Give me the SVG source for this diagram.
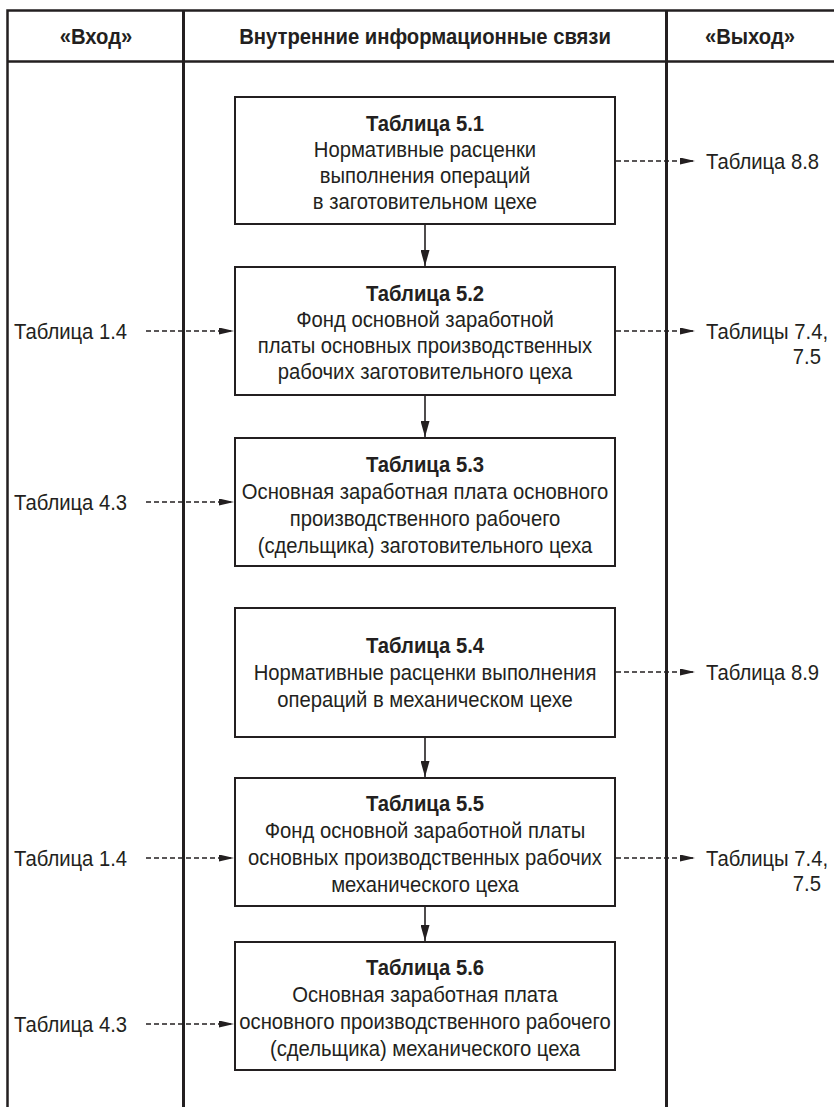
<svg xmlns="http://www.w3.org/2000/svg" width="834" height="1107" viewBox="0 0 834 1107">
<style>
text{font-family:"Liberation Sans",Arial,sans-serif;font-size:22.5px;fill:#231f20;text-anchor:middle}
.b{font-weight:bold}
.l{text-anchor:start}
.r{text-anchor:end}
.frame{fill:none;stroke:#231f20;stroke-width:2.5}
.col{fill:none;stroke:#231f20;stroke-width:3}
.box{fill:#fff;stroke:#231f20;stroke-width:2}
.solid{stroke:#231f20;stroke-width:1.6;fill:none}
.dash{stroke:#231f20;stroke-width:1.6;fill:none;stroke-dasharray:5 3}
</style>
<defs>
<marker id="ah" viewBox="0 0 15 7" refX="15" refY="3.5" markerWidth="15" markerHeight="7" markerUnits="userSpaceOnUse" orient="auto">
<path d="M0,0 L15,3.5 L0,7 Z" fill="#231f20"/>
</marker>
<marker id="av" viewBox="0 0 16 9" refX="16" refY="4.5" markerWidth="16" markerHeight="9" markerUnits="userSpaceOnUse" orient="auto">
<path d="M0,0 L16,4.5 L0,9 Z" fill="#231f20"/>
</marker>
</defs>
<rect width="834" height="1107" fill="#fff"/>
<g id="table">
<path class="frame" d="M7.5,1107 V10.5 H834 M7.5,61.5 H834"/>
<path class="col" d="M183.5,10.5 V1107 M666.5,10.5 V1107"/>
<text class="b" transform="translate(96,44) scale(0.9,1)">«Вход»</text>
<text class="b" transform="translate(425,44) scale(0.9,1)">Внутренние информационные связи</text>
<text class="b" transform="translate(750,44) scale(0.9,1)">«Выход»</text>
</g>
<g id="connectors">
<line class="solid" x1="425" y1="224" x2="425" y2="266" marker-end="url(#av)"/>
<line class="solid" x1="425" y1="395" x2="425" y2="437" marker-end="url(#av)"/>
<line class="solid" x1="425" y1="737" x2="425" y2="777" marker-end="url(#av)"/>
<line class="solid" x1="425" y1="906" x2="425" y2="941" marker-end="url(#av)"/>
<line class="dash" x1="146" y1="331" x2="234" y2="331" marker-end="url(#ah)"/>
<line class="dash" x1="146" y1="502" x2="234" y2="502" marker-end="url(#ah)"/>
<line class="dash" x1="146" y1="858" x2="234" y2="858" marker-end="url(#ah)"/>
<line class="dash" x1="146" y1="1024" x2="234" y2="1024" marker-end="url(#ah)"/>
<line class="dash" x1="616" y1="161" x2="695" y2="161" marker-end="url(#ah)"/>
<line class="dash" x1="616" y1="331" x2="695" y2="331" marker-end="url(#ah)"/>
<line class="dash" x1="616" y1="672" x2="695" y2="672" marker-end="url(#ah)"/>
<line class="dash" x1="616" y1="858" x2="695" y2="858" marker-end="url(#ah)"/>
</g>
<g id="inputs">
<text class="l" transform="translate(14,339) scale(0.9,1)">Таблица 1.4</text>
<text class="l" transform="translate(14,510) scale(0.9,1)">Таблица 4.3</text>
<text class="l" transform="translate(14,866) scale(0.9,1)">Таблица 1.4</text>
<text class="l" transform="translate(14,1032) scale(0.9,1)">Таблица 4.3</text>
</g>
<g id="outputs">
<text class="l" transform="translate(706,169) scale(0.9,1)">Таблица 8.8</text>
<text class="l" transform="translate(706,339) scale(0.9,1)">Таблицы 7.4,</text>
<text class="r" transform="translate(821,364) scale(0.9,1)">7.5</text>
<text class="l" transform="translate(706,680) scale(0.9,1)">Таблица 8.9</text>
<text class="l" transform="translate(706,866) scale(0.9,1)">Таблицы 7.4,</text>
<text class="r" transform="translate(821,891) scale(0.9,1)">7.5</text>
</g>
<g id="t51">
<rect class="box" x="235" y="97" width="380" height="127"/>
<text class="b" transform="translate(425,131) scale(0.9,1)">Таблица 5.1</text>
<text transform="translate(425,157) scale(0.9,1)">Нормативные расценки</text>
<text transform="translate(425,183) scale(0.9,1)">выполнения операций</text>
<text transform="translate(425,209) scale(0.9,1)">в заготовительном цехе</text>
</g>
<g id="t52">
<rect class="box" x="235" y="267" width="380" height="128"/>
<text class="b" transform="translate(425,301) scale(0.9,1)">Таблица 5.2</text>
<text transform="translate(425,327) scale(0.9,1)">Фонд основной заработной</text>
<text transform="translate(425,353) scale(0.9,1)">платы основных производственных</text>
<text transform="translate(425,379) scale(0.9,1)">рабочих заготовительного цеха</text>
</g>
<g id="t53">
<rect class="box" x="235" y="438" width="380" height="128"/>
<text class="b" transform="translate(425,472) scale(0.9,1)">Таблица 5.3</text>
<text transform="translate(425,499) scale(0.9,1)">Основная заработная плата основного</text>
<text transform="translate(425,526) scale(0.9,1)">производственного рабочего</text>
<text transform="translate(425,553) scale(0.9,1)">(сдельщика) заготовительного цеха</text>
</g>
<g id="t54">
<rect class="box" x="235" y="608" width="380" height="129"/>
<text class="b" transform="translate(425,653) scale(0.9,1)">Таблица 5.4</text>
<text transform="translate(425,680) scale(0.9,1)">Нормативные расценки выполнения</text>
<text transform="translate(425,707) scale(0.9,1)">операций в механическом цехе</text>
</g>
<g id="t55">
<rect class="box" x="235" y="778" width="380" height="128"/>
<text class="b" transform="translate(425,811) scale(0.9,1)">Таблица 5.5</text>
<text transform="translate(425,838) scale(0.9,1)">Фонд основной заработной платы</text>
<text transform="translate(425,865) scale(0.9,1)">основных производственных рабочих</text>
<text transform="translate(425,892) scale(0.9,1)">механического цеха</text>
</g>
<g id="t56">
<rect class="box" x="235" y="942" width="380" height="128"/>
<text class="b" transform="translate(425,975) scale(0.9,1)">Таблица 5.6</text>
<text transform="translate(425,1002) scale(0.9,1)">Основная заработная плата</text>
<text transform="translate(425,1029) scale(0.9,1)">основного производственного рабочего</text>
<text transform="translate(425,1056) scale(0.9,1)">(сдельщика) механического цеха</text>
</g>
</svg>
